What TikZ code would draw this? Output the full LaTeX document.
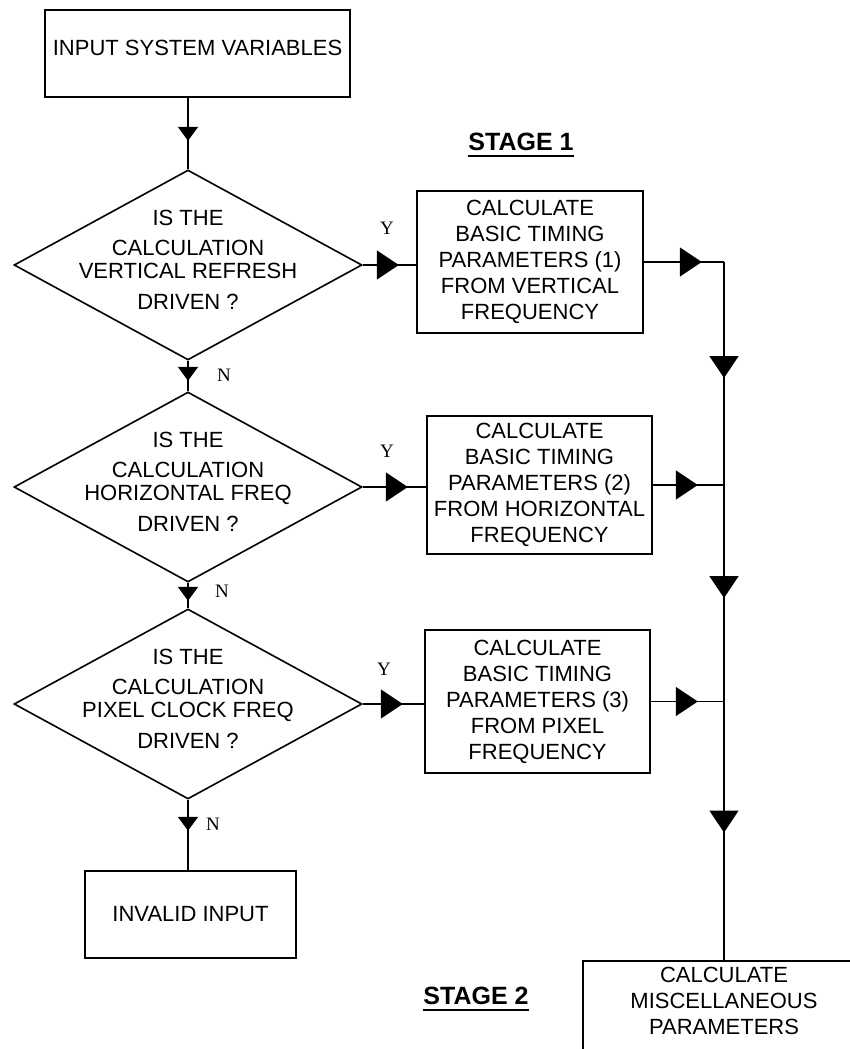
\documentclass[tikz,border=0pt]{standalone}
\usepackage{fontspec}
\setmainfont{Liberation Sans}
\newfontfamily\ynfont{Liberation Serif}
\usetikzlibrary{shapes.geometric,arrows.meta,decorations.markings}
\tikzset{
  conn/.style={line width=1.6pt},
  tipS/.style={postaction={decorate}, decoration={markings, mark=at position #1 with {\arrow{Triangle[length=14pt,width=20pt]}}}},
  tipL/.style={postaction={decorate}, decoration={markings, mark=at position #1 with {\arrow{Triangle[length=22pt,width=29pt]}}}},
  procbox/.style={draw, rectangle, line width=1.6pt, inner sep=0pt, align=center, font=\fontsize{22}{26}\selectfont},
  dia/.style={draw, diamond, line width=1.6pt, minimum width=348pt, minimum height=190pt, inner sep=0pt},
  dtext/.style={inner sep=0pt, align=center, font=\fontsize{22}{23}\selectfont},
  btext/.style={inner sep=0pt, align=center, font=\fontsize{22}{26}\selectfont},
  yn/.style={inner sep=0pt, font=\ynfont\fontsize{19}{19}\selectfont},
  stage/.style={inner sep=0pt, font=\bfseries\fontsize{25}{25}\selectfont},
}
\begin{document}
\begin{tikzpicture}[x=1pt, y=-1pt]
\useasboundingbox (0,0) rectangle (850,1049);
\clip (0,0) rectangle (850,1049);

% nodes
\node[procbox, minimum width=305pt, minimum height=87pt, text depth=12pt] (in) at (197.5,53.5) {INPUT SYSTEM VARIABLES};

\node[dia] (d1) at (188,265) {};
\node[dtext] (d1t) at ([yshift=5pt]d1.center) {IS THE\\[7pt]CALCULATION\\VERTICAL REFRESH\\[8pt]DRIVEN ?};
\node[dia] (d2) at (188,487) {};
\node[dtext] (d2t) at ([yshift=5pt]d2.center) {IS THE\\[7pt]CALCULATION\\HORIZONTAL FREQ\\[8pt]DRIVEN ?};
\node[dia] (d3) at (188,704) {};
\node[dtext] (d3t) at ([yshift=5pt]d3.center) {IS THE\\[7pt]CALCULATION\\PIXEL CLOCK FREQ\\[8pt]DRIVEN ?};

\node[procbox, minimum width=226pt, minimum height=142pt] (b1) at (530,262) {CALCULATE\\BASIC TIMING\\PARAMETERS (1)\\FROM VERTICAL\\FREQUENCY};
\node[procbox, minimum width=225pt, minimum height=138pt] (b2) at (539.5,485) {CALCULATE\\BASIC TIMING\\PARAMETERS (2)\\FROM HORIZONTAL\\FREQUENCY};
\node[procbox, minimum width=225pt, minimum height=143pt] (b3) at (537.5,701.5) {CALCULATE\\BASIC TIMING\\PARAMETERS (3)\\FROM PIXEL\\FREQUENCY};

\node[procbox, minimum width=211pt, minimum height=87pt] (inv) at (190.5,914.5) {INVALID INPUT};

\node[procbox, minimum width=282pt, minimum height=200pt, anchor=north] (misc) at (724,960) {};
\node[btext] (misct) at (724,1001) {CALCULATE\\MISCELLANEOUS\\PARAMETERS};

\coordinate (j1) at (b1.east -| misc.north);
\coordinate (j2) at (b2.east -| misc.north);
\coordinate (j3) at (b3.east -| misc.north);

% labels
\node[yn] (y1) at (387,228) {Y};
\node[yn] (y2) at (387,451) {Y};
\node[yn] (y3) at (384,669) {Y};
\node[yn] (n1) at (224,375) {N};
\node[yn] (n2) at (222,591) {N};
\node[yn] (n3) at (213,824) {N};

\node[stage] (st1) at (521,142) {STAGE 1};
\draw[line width=2.6pt] ([yshift=-5pt]st1.south west) -- ([yshift=-5pt]st1.south east);
\node[stage] (st2) at (476,996) {STAGE 2};
\draw[line width=2.6pt] ([yshift=-5pt]st2.south west) -- ([yshift=-5pt]st2.south east);

% connectors
\draw[conn, tipS=43pt] (d1.north |- in.south) -- (d1.north);
\draw[conn, tipS=20pt] (d1.south) -- (d2.north);
\draw[conn, tipS=18pt] (d2.south) -- (d3.north);
\draw[conn, tipS=31pt] (d3.south) -- (d3.south |- inv.north);
\draw[conn, tipL=36pt] (d1.east) -- (d1.east -| b1.west);
\draw[conn, tipL=45pt] (d2.east) -- (d2.east -| b2.west);
\draw[conn, tipL=40pt] (d3.east) -- (d3.east -| b3.west);
\draw[conn, tipL=58pt] (b1.east) -- (j1);
\draw[conn, tipL=45pt] (b2.east) -- (j2);
\draw[conn, tipL=47pt] (b3.east) -- (j3);
\draw[conn, tipL=116pt] (j1) -- (j2);
\draw[conn, tipL=113pt] (j2) -- (j3);
\draw[conn, tipL=131pt] (j3) -- (misc.north);
\end{tikzpicture}
\end{document}
